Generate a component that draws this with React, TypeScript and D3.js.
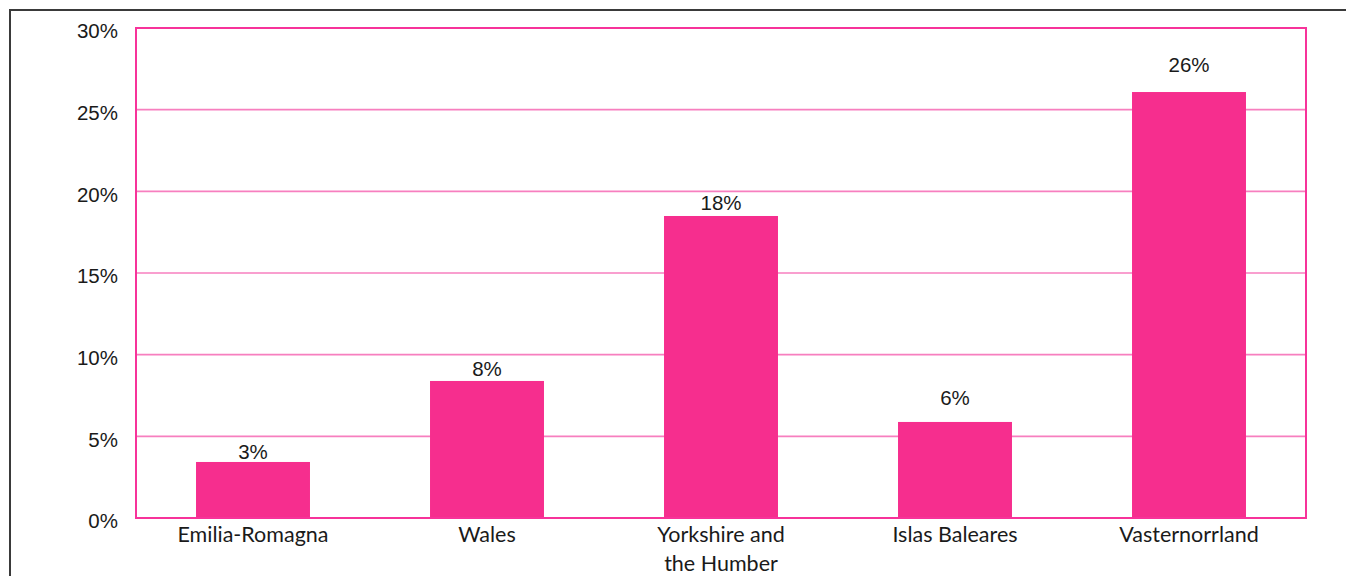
import React from "react";
import * as d3 from "d3";

const categories: string[][] = [
  ["Emilia-Romagna"],
  ["Wales"],
  ["Yorkshire and", "the Humber"],
  ["Islas Baleares"],
  ["Vasternorrland"],
];
const values: number[] = [3.43, 8.39, 18.49, 5.88, 26.08];
const valueLabels: string[] = ["3%", "8%", "18%", "6%", "26%"];
const labelGaps: number[] = [3, 5, 6, 17, 20];
const yTicks: number[] = [0, 5, 10, 15, 20, 25, 30];

const W = 1346;
const H = 576;
const plot = { left: 136, right: 1306, top: 28, bottom: 518 };
const PINK = "#f62e8e";
const FONT = "Lato, 'Liberation Sans', Arial, sans-serif";
const NUMFONT = "'Liberation Sans', Arial, sans-serif";

export default function App() {
  const x = d3
    .scaleBand<number>()
    .domain(values.map((_, i) => i))
    .range([plot.left, plot.right])
    .paddingInner(0.513)
    .paddingOuter(0.2565);
  const y = d3.scaleLinear().domain([0, 30]).range([plot.bottom, plot.top]);

  return (
    <svg
      width={W}
      height={H}
      style={{ position: "absolute", left: 0, top: 0, background: "#fff" }}
    >
      <path d={`M10,${H + 5} V10 H${W + 5}`} fill="none" stroke="#3a3a3a" strokeWidth={2} />
      {yTicks.map((t) => (
        <g key={t}>
          {t > 0 && t < 30 && (
            <line x1={plot.left} x2={plot.right} y1={y(t)} y2={y(t)} stroke="#f77fbf" strokeWidth={1.6} />
          )}
          <text
            x={plot.left - 18}
            y={y(t)}
            dy="0.5em"
            textAnchor="end"
            fontFamily={NUMFONT}
            fontSize={20.5}
            fill="#1a1a1a"
          >
            {t}%
          </text>
        </g>
      ))}
      {values.map((v, i) => (
        <g key={i}>
          <rect
            x={x(i)}
            y={y(v)}
            width={x.bandwidth()}
            height={plot.bottom - y(v)}
            fill={PINK}
          />
          <text
            x={(x(i) as number) + x.bandwidth() / 2}
            y={y(v) - labelGaps[i]}
            textAnchor="middle"
            fontFamily={NUMFONT}
            fontSize={20.5}
            fill="#1a1a1a"
          >
            {valueLabels[i]}
          </text>
          {categories[i].map((line, j) => (
            <text
              key={j}
              x={(x(i) as number) + x.bandwidth() / 2}
              y={542 + j * 29}
              textAnchor="middle"
              fontFamily={FONT}
              fontSize={21.5}
              fill="#1a1a1a"
            >
              {line}
            </text>
          ))}
        </g>
      ))}
      <rect
        x={plot.left}
        y={plot.top}
        width={plot.right - plot.left}
        height={plot.bottom - plot.top}
        fill="none"
        stroke="#f7339a"
        strokeWidth={2}
      />
    </svg>
  );
}
